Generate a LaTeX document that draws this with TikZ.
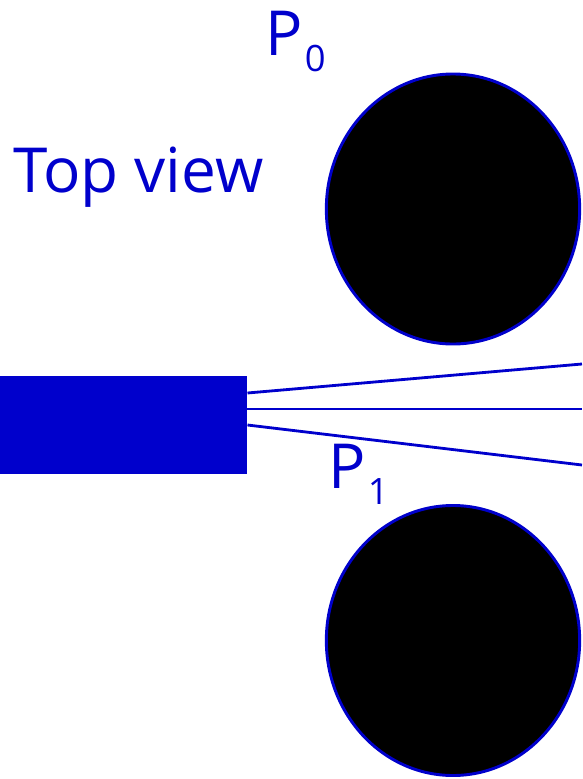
\documentclass[tikz,border=0pt]{standalone}
\usepackage{fontspec}
\setmainfont{Open Sans}
\usetikzlibrary{shapes.geometric,positioning,calc}
\definecolor{tvBlue}{HTML}{0000CC}
\newcommand{\bigtext}{\fontsize{53pt}{60pt}\selectfont}
\newcommand{\dropsub}[1]{\kern2pt\raisebox{-14pt}{\fontsize{31pt}{34pt}\selectfont #1}}

\begin{document}
\begin{tikzpicture}[
    x=0.03cm, y=-0.03cm,
    lbl/.style={inner sep=0pt, anchor=base west, text=tvBlue, font=\bigtext},
    disc/.style={ellipse, draw=tvBlue, fill=black, line width=2.5pt,
                 minimum width=7.6cm, minimum height=8.1cm, inner sep=0pt},
    ray/.style={draw=tvBlue, line width=2.4pt},
  ]
  \useasboundingbox (0,0) rectangle (582,779);

  % Labels
  \node[lbl] (topview) at (13,192) {Top view};
  \node[lbl] (pzero) at (265,55) {P\dropsub{0}};
  \node[lbl] (pone) at (328,488) {P\dropsub{1}};

  % Discs
  \node[disc] (disc0) at (453,209) {};
  \node[disc] (disc1) at (453,640.5) {};

  % Source block
  \node[fill=tvBlue, inner sep=0pt, minimum width=7.41cm, minimum height=2.94cm,
        anchor=north west] (src) at (0,376) {};

  % Rays
  \coordinate (s0) at ($(src.north east)+(0,17)$);
  \coordinate (s1) at ($(src.north east)+(0,33)$);
  \coordinate (s2) at ($(src.north east)+(0,49)$);
  \coordinate (e0) at (582,364);
  \coordinate (e1) at (582,409);
  \coordinate (e2) at (582,465);
  \draw[ray] (s0) -- (e0);
  \draw[ray] (s1) -- (e1);
  \draw[ray] (s2) -- (e2);
\end{tikzpicture}
\end{document}
